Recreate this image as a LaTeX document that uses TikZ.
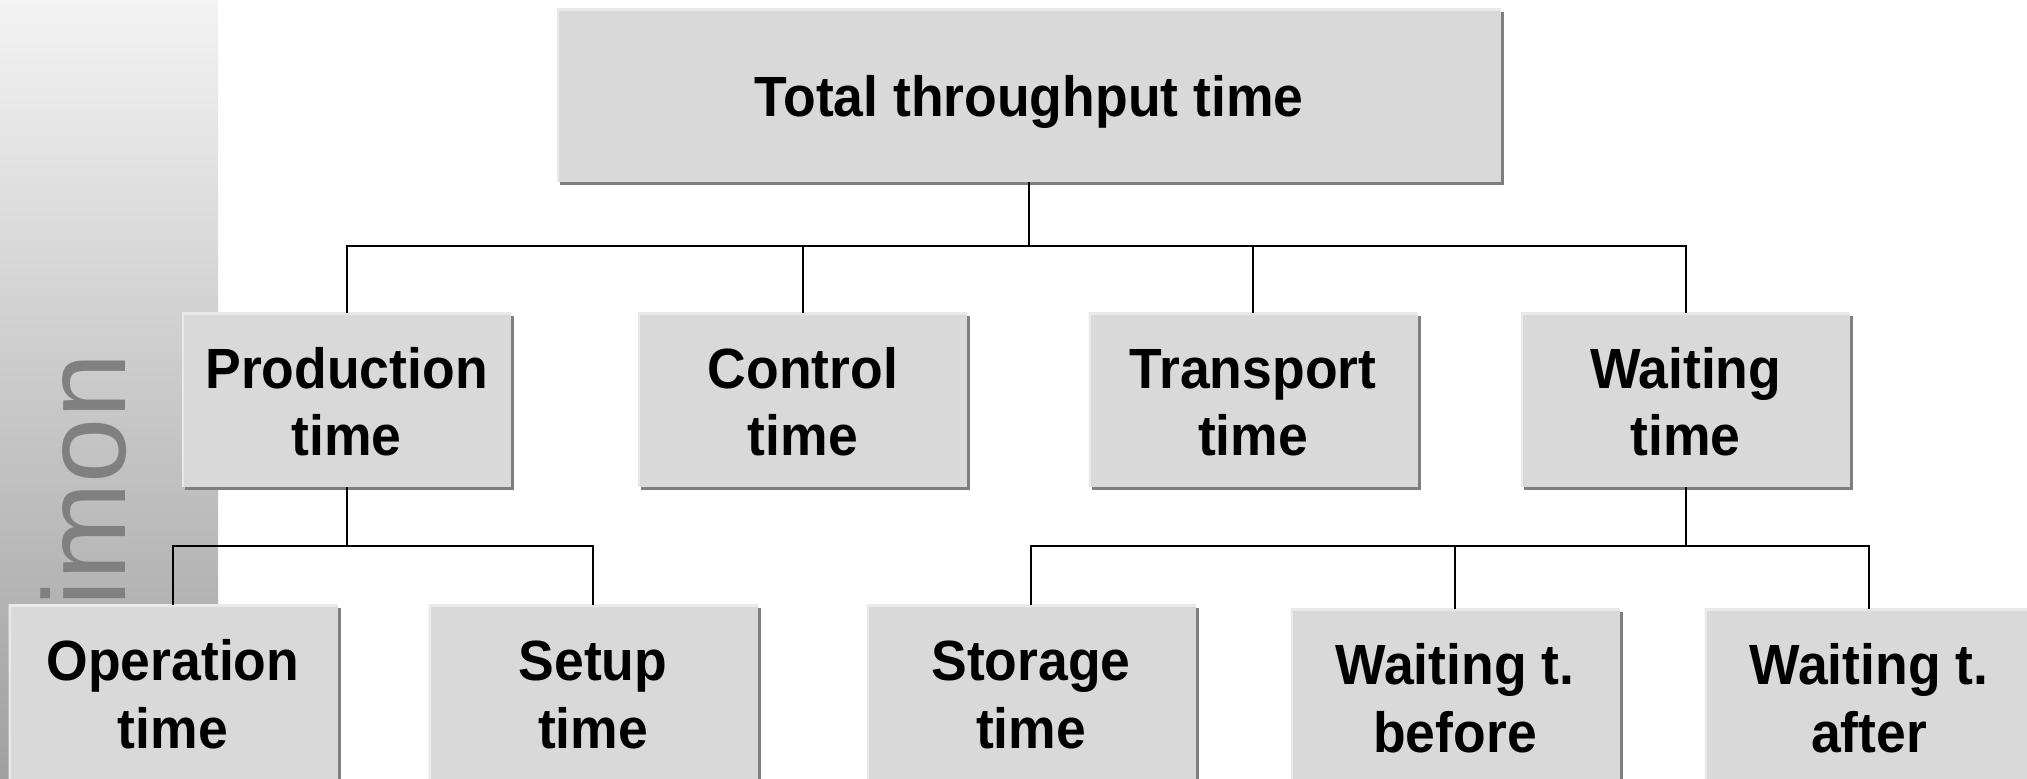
\documentclass[tikz,border=0pt]{standalone}
\usepackage{fontspec}
\usepackage{graphicx}
\setmainfont{Liberation Sans}
\usetikzlibrary{shadows}
\definecolor{boxfill}{HTML}{D9D9D9}
\definecolor{boxhl}{HTML}{E9E9E9}
\definecolor{boxshadow}{HTML}{7F7F7F}
\definecolor{striptop}{HTML}{F3F3F3}
\definecolor{stripbot}{HTML}{A0A0A0}
\definecolor{striptext}{HTML}{808080}
% text block: last baseline placed #1 from the node centre, slightly stretched vertically
\newcommand\stt[2][-56pt]{\raisebox{#1}[0pt][0pt]{\scalebox{1}[1.06]{\begin{tabular}[b]{@{}c@{}}#2\end{tabular}}}}
\tikzset{
  x=1pt, y=1pt,
  tbox/.style={rectangle, inner sep=0pt, fill=boxfill,
    minimum width=329pt, minimum height=174pt,
    font=\fontsize{53.5}{64}\selectfont\bfseries,
    general shadow={shadow xshift=3pt, shadow yshift=-3pt, fill=boxshadow, opacity=1},
    path picture={\draw[boxhl, line width=4pt] (path picture bounding box.south west) |- (path picture bounding box.north east);}},
  conn/.style={draw=black, line width=2pt},
}
\begin{document}
\begin{tikzpicture}
\useasboundingbox (0,0) rectangle (2027,779);
\fill[white] (0,0) rectangle (2027,779);
% left strip
\shade[top color=striptop, bottom color=stripbot] (0,0) rectangle (218,779);
\node[rotate=90, anchor=base west, inner sep=0pt, text=striptext,
      font=\fontsize{117}{117}\selectfont] (strip) at (125,172) {imon};
% nodes
\node[tbox, minimum width=944pt, minimum height=173pt] (top) at (1029,683.5) {\stt[-21.5pt]{Total throughput time}};
\node[tbox] (prod) at (346.5,379) {\stt{Production\\time}};
\node[tbox] (ctrl) at (802.8,379) {\stt{Control\\time}};
\node[tbox] (trans) at (1253,379) {\stt{Transport\\time}};
\node[tbox] (wait) at (1685.7,379) {\stt{Waiting\\time}};
\node[tbox, minimum height=175pt] (oper) at (173,86.5) {\stt{Operation\\time}};
\node[tbox, minimum height=175pt] (setup) at (593,86.5) {\stt{Setup\\time}};
\node[tbox, minimum height=175pt] (stor) at (1031,86.5) {\stt{Storage\\time}};
\node[tbox, minimum height=175pt] (wbef) at (1455,82.5) {\stt{Waiting t.\\before}};
\node[tbox, minimum height=175pt] (waft) at (1869,82.5) {\stt{Waiting t.\\after}};
% bus levels
\coordinate (bus1) at (0,533);
\coordinate (bus2) at (0,233);
% connectors
\draw[conn] (top.south) |- (prod.north |- bus1) -- (prod.north);
\draw[conn] (top.south) |- (ctrl.north |- bus1) -- (ctrl.north);
\draw[conn] (top.south) |- (trans.north |- bus1) -- (trans.north);
\draw[conn] (top.south) |- (wait.north |- bus1) -- (wait.north);
\draw[conn] (prod.south) |- (oper.north |- bus2) -- (oper.north);
\draw[conn] (prod.south) |- (setup.north |- bus2) -- (setup.north);
\draw[conn] (wait.south) |- (stor.north |- bus2) -- (stor.north);
\draw[conn] (wait.south) |- (wbef.north |- bus2) -- (wbef.north);
\draw[conn] (wait.south) |- (waft.north |- bus2) -- (waft.north);
\end{tikzpicture}
\end{document}
